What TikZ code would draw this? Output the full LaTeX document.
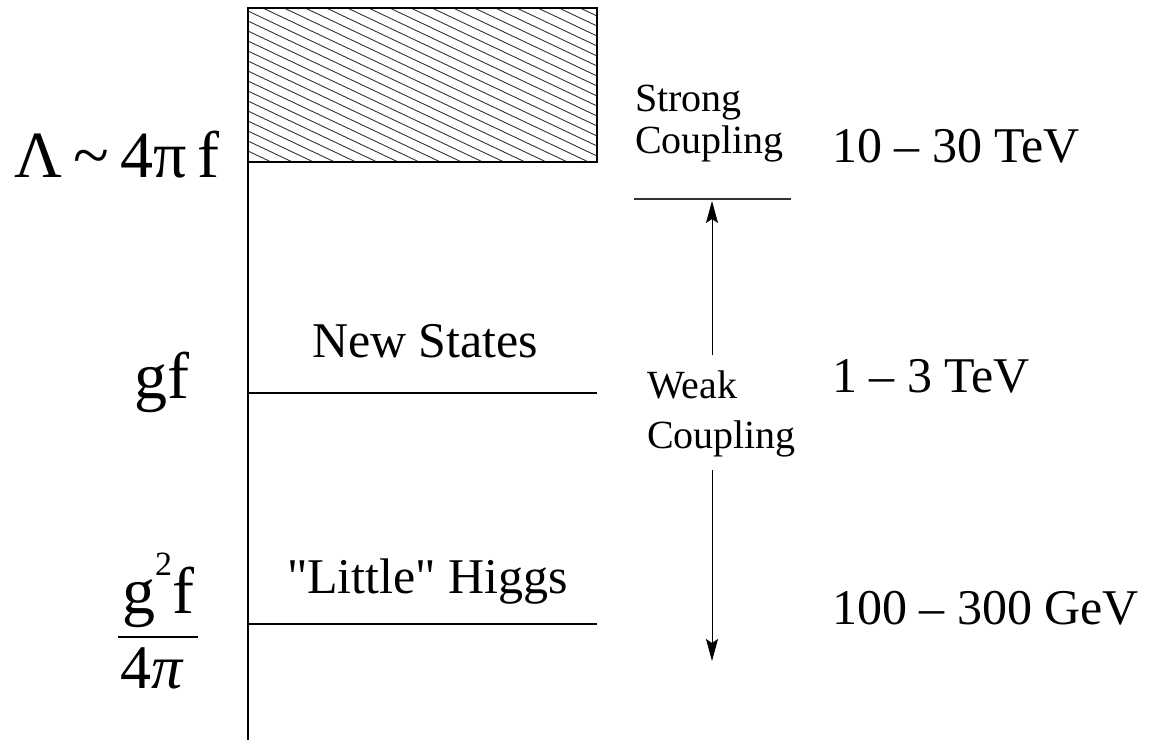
\documentclass[tikz,border=0pt]{standalone}
\usepackage{fontspec}
\setmainfont{Liberation Serif}[Ligatures=TeXOff]
\usetikzlibrary{arrows.meta}
\begin{document}
\begin{tikzpicture}[x=1pt,y=-1pt,
  lbl/.style={inner sep=0pt,outer sep=0pt,anchor=base west},
  big/.style={lbl,font=\fontsize{66}{66}\selectfont},
  mid/.style={lbl,font=\fontsize{50}{50}\selectfont},
  sml/.style={lbl,font=\fontsize{40}{40}\selectfont},
  level/.style={line width=2pt},
  hatch/.style={line width=0.9pt,black!80},
  tipline/.style={-{Stealth[length=22pt,width=12pt,inset=4pt]},line width=1pt}]
\useasboundingbox (0,0) rectangle (1152,744);
% axis and box
\coordinate (axtop) at (248,8);
\coordinate (axbot) at (248,740);
\coordinate (boxtl) at (248,8);
\coordinate (boxbr) at (597,162);
\begin{scope}
\clip (boxtl) rectangle (boxbr);
\foreach \i in {-17,...,16} \draw[hatch] (248,11+10*\i) -- (597,11+10*\i+165);
\end{scope}
\draw[level] (boxtl) rectangle (boxbr);
\draw[level] (axtop) -- (axbot);
% levels
\coordinate (l1a) at (248,393);
\coordinate (l1b) at (597,393);
\coordinate (l2a) at (248,624);
\coordinate (l2b) at (597,624);
\draw[level] (l1a) -- (l1b);
\draw[level] (l2a) -- (l2b);
% strong coupling boundary
\coordinate (sa) at (634,199);
\coordinate (sb) at (791,199);
\draw[line width=1.2pt,black!80] (sa) -- (sb);
% left labels
\node[big] (lam) at (15,177) {Λ\,\textasciitilde\,4π\,f};
\node[big] (gf) at (134,398) {gf};
\node[big] (num) at (122,613) {g\raisebox{38pt}{\fontsize{34}{34}\selectfont 2}f};
\coordinate (fa) at (118,637);
\coordinate (fb) at (198,637);
\draw[line width=1.5pt] (fa) -- (fb);
\node[big,font=\fontsize{62}{62}\selectfont] (den) at (120,688) {4\textit{π}};
% level labels
\node[mid] (news) at (312,357) {New States};
\node[mid] (little) at (287,593) {"Little" Higgs};
% coupling labels
\node[sml] (strong) at (635,111) {Strong};
\node[sml] (strongc) at (635,153) {Coupling};
\node[sml] (weak) at (647,398) {Weak};
\node[sml] (weakc) at (647,448) {Coupling};
% energies
\node[mid] (e1) at (832,162) {10 – 30 TeV};
\node[mid] (e2) at (832,392) {1 – 3 TeV};
\node[mid] (e3) at (832,624) {100 – 300 GeV};
% arrow
\coordinate (atop) at (712,201);
\coordinate (a1) at (712,355);
\coordinate (a2) at (712,470);
\coordinate (abot) at (712,661);
\draw[tipline] (a1) -- (atop);
\draw[tipline] (a2) -- (abot);
\end{tikzpicture}
\end{document}
